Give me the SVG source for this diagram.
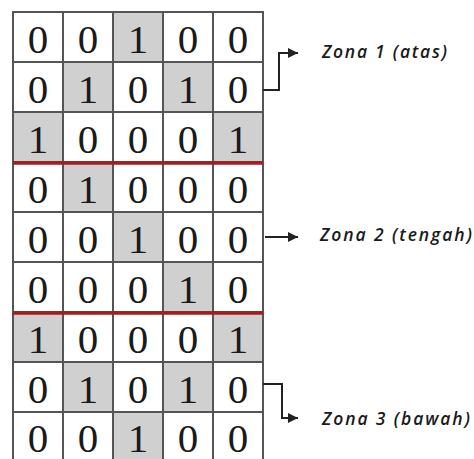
<svg xmlns="http://www.w3.org/2000/svg" width="474" height="459" viewBox="0 0 474 459">
  <style>
    .cell { fill: #ffffff; stroke: #555555; stroke-width: 2; }
    .cell.on { fill: #d0d0d0; }
    .digit { font-family: "Liberation Serif", "Times New Roman", serif; font-size: 41px; fill: #1a1a1a; text-anchor: middle; }
    .split { stroke: #a51d1d; stroke-width: 3.5; }
    .conn { fill: none; stroke: #222222; stroke-width: 2; }
    .zone { font-family: "Open Sans", "Noto Sans", sans-serif; font-style: italic; font-weight: 600; font-size: 17.5px; fill: #1a1a1a; }
  </style>
  <defs>
    <marker id="arrow" viewBox="0 0 10 10" refX="10" refY="5" markerWidth="10" markerHeight="10" markerUnits="userSpaceOnUse" orient="auto">
      <path d="M0,0 L10,5 L0,10 Z" fill="#222222"/>
    </marker>
  </defs>
  <rect width="474" height="459" fill="#ffffff"/>

  <!-- 9x5 binary grid, cells 50px, origin (13,12) -->
  <g id="grid">
    <g id="row1">
      <rect class="cell" x="13" y="12" width="50" height="50"/><text class="digit" x="38" y="53">0</text>
      <rect class="cell" x="63" y="12" width="50" height="50"/><text class="digit" x="88" y="53">0</text>
      <rect class="cell on" x="113" y="12" width="50" height="50"/><text class="digit" x="138" y="53">1</text>
      <rect class="cell" x="163" y="12" width="50" height="50"/><text class="digit" x="188" y="53">0</text>
      <rect class="cell" x="213" y="12" width="50" height="50"/><text class="digit" x="238" y="53">0</text>
    </g>
    <g id="row2">
      <rect class="cell" x="13" y="62" width="50" height="50"/><text class="digit" x="38" y="103">0</text>
      <rect class="cell on" x="63" y="62" width="50" height="50"/><text class="digit" x="88" y="103">1</text>
      <rect class="cell" x="113" y="62" width="50" height="50"/><text class="digit" x="138" y="103">0</text>
      <rect class="cell on" x="163" y="62" width="50" height="50"/><text class="digit" x="188" y="103">1</text>
      <rect class="cell" x="213" y="62" width="50" height="50"/><text class="digit" x="238" y="103">0</text>
    </g>
    <g id="row3">
      <rect class="cell on" x="13" y="112" width="50" height="50"/><text class="digit" x="38" y="153">1</text>
      <rect class="cell" x="63" y="112" width="50" height="50"/><text class="digit" x="88" y="153">0</text>
      <rect class="cell" x="113" y="112" width="50" height="50"/><text class="digit" x="138" y="153">0</text>
      <rect class="cell" x="163" y="112" width="50" height="50"/><text class="digit" x="188" y="153">0</text>
      <rect class="cell on" x="213" y="112" width="50" height="50"/><text class="digit" x="238" y="153">1</text>
    </g>
    <g id="row4">
      <rect class="cell" x="13" y="162" width="50" height="50"/><text class="digit" x="38" y="203">0</text>
      <rect class="cell on" x="63" y="162" width="50" height="50"/><text class="digit" x="88" y="203">1</text>
      <rect class="cell" x="113" y="162" width="50" height="50"/><text class="digit" x="138" y="203">0</text>
      <rect class="cell" x="163" y="162" width="50" height="50"/><text class="digit" x="188" y="203">0</text>
      <rect class="cell" x="213" y="162" width="50" height="50"/><text class="digit" x="238" y="203">0</text>
    </g>
    <g id="row5">
      <rect class="cell" x="13" y="212" width="50" height="50"/><text class="digit" x="38" y="253">0</text>
      <rect class="cell" x="63" y="212" width="50" height="50"/><text class="digit" x="88" y="253">0</text>
      <rect class="cell on" x="113" y="212" width="50" height="50"/><text class="digit" x="138" y="253">1</text>
      <rect class="cell" x="163" y="212" width="50" height="50"/><text class="digit" x="188" y="253">0</text>
      <rect class="cell" x="213" y="212" width="50" height="50"/><text class="digit" x="238" y="253">0</text>
    </g>
    <g id="row6">
      <rect class="cell" x="13" y="262" width="50" height="50"/><text class="digit" x="38" y="303">0</text>
      <rect class="cell" x="63" y="262" width="50" height="50"/><text class="digit" x="88" y="303">0</text>
      <rect class="cell" x="113" y="262" width="50" height="50"/><text class="digit" x="138" y="303">0</text>
      <rect class="cell on" x="163" y="262" width="50" height="50"/><text class="digit" x="188" y="303">1</text>
      <rect class="cell" x="213" y="262" width="50" height="50"/><text class="digit" x="238" y="303">0</text>
    </g>
    <g id="row7">
      <rect class="cell on" x="13" y="312" width="50" height="50"/><text class="digit" x="38" y="353">1</text>
      <rect class="cell" x="63" y="312" width="50" height="50"/><text class="digit" x="88" y="353">0</text>
      <rect class="cell" x="113" y="312" width="50" height="50"/><text class="digit" x="138" y="353">0</text>
      <rect class="cell" x="163" y="312" width="50" height="50"/><text class="digit" x="188" y="353">0</text>
      <rect class="cell on" x="213" y="312" width="50" height="50"/><text class="digit" x="238" y="353">1</text>
    </g>
    <g id="row8">
      <rect class="cell" x="13" y="362" width="50" height="50"/><text class="digit" x="38" y="403">0</text>
      <rect class="cell on" x="63" y="362" width="50" height="50"/><text class="digit" x="88" y="403">1</text>
      <rect class="cell" x="113" y="362" width="50" height="50"/><text class="digit" x="138" y="403">0</text>
      <rect class="cell on" x="163" y="362" width="50" height="50"/><text class="digit" x="188" y="403">1</text>
      <rect class="cell" x="213" y="362" width="50" height="50"/><text class="digit" x="238" y="403">0</text>
    </g>
    <g id="row9">
      <rect class="cell" x="13" y="412" width="50" height="50"/><text class="digit" x="38" y="452">0</text>
      <rect class="cell" x="63" y="412" width="50" height="50"/><text class="digit" x="88" y="452">0</text>
      <rect class="cell on" x="113" y="412" width="50" height="50"/><text class="digit" x="138" y="452">1</text>
      <rect class="cell" x="163" y="412" width="50" height="50"/><text class="digit" x="188" y="452">0</text>
      <rect class="cell" x="213" y="412" width="50" height="50"/><text class="digit" x="238" y="452">0</text>
    </g>
  </g>

  <!-- zone boundaries -->
  <g id="dividers">
    <line class="split" x1="13" y1="163" x2="263" y2="163"/>
    <line class="split" x1="13" y1="313" x2="263" y2="313"/>
  </g>

  <!-- connectors to zone labels -->
  <g id="connectors">
    <path class="conn" d="M263,90 H279 V53 H298" marker-end="url(#arrow)"/>
    <path class="conn" d="M265,237 H298" marker-end="url(#arrow)"/>
    <path class="conn" d="M263,384 H282 V418 H298" marker-end="url(#arrow)"/>
  </g>

  <g id="zone1"><text class="zone" x="322" y="58" textLength="125" lengthAdjust="spacing">Zona 1 (atas)</text></g>
  <g id="zone2"><text class="zone" x="320" y="241" textLength="152" lengthAdjust="spacing">Zona 2 (tengah)</text></g>
  <g id="zone3"><text class="zone" x="322" y="425" textLength="148" lengthAdjust="spacing">Zona 3 (bawah)</text></g>
</svg>
